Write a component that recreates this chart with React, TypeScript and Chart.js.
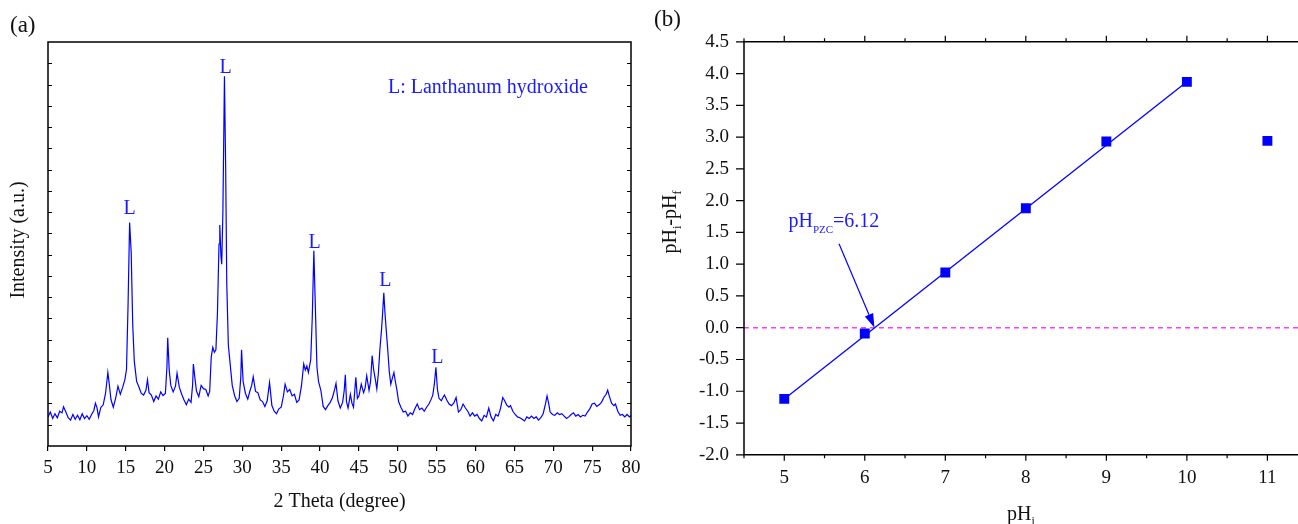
import React, { useEffect, useRef } from "react";
import { Chart, registerables } from "chart.js";
Chart.register(...registerables);

const FONT = '"Liberation Serif", "Times New Roman", serif';
const BLUE = "#0000ff";
const TEXT_BLUE = "#1a1aff";

// ---------- Panel (a): XRD pattern ----------
const xrdTheta = [
  5.0, 5.3, 5.6, 5.9, 6.2, 6.5, 6.8, 7.0, 7.3, 7.6, 7.9, 8.2, 8.5, 8.8, 9.1, 9.4, 9.7, 10.0, 10.3, 10.6,
  10.9, 11.1, 11.3, 11.5, 11.8, 12.1, 12.4, 12.7, 12.9, 13.1, 13.4, 13.7, 14.0, 14.3, 14.6, 14.9, 15.1, 15.3, 15.5, 15.7,
  15.9, 16.1, 16.4, 16.7, 17.0, 17.3, 17.6, 17.8, 18.0, 18.3, 18.6, 18.9, 19.2, 19.5, 19.8, 20.1, 20.3, 20.4, 20.6, 20.8,
  21.1, 21.4, 21.6, 21.9, 22.2, 22.5, 22.8, 23.1, 23.4, 23.6, 23.7, 23.9, 24.1, 24.4, 24.7, 25.0, 25.3, 25.6, 25.8, 26.0,
  26.2, 26.4, 26.6, 26.8, 27.0, 27.1, 27.25, 27.35, 27.5, 27.7, 27.85, 28.0, 28.2, 28.4, 28.7, 29.0, 29.3, 29.6, 29.8, 29.9,
  30.1, 30.4, 30.7, 31.0, 31.2, 31.4, 31.7, 32.0, 32.3, 32.6, 32.9, 33.2, 33.5, 33.8, 34.1, 34.4, 34.7, 35.0, 35.3, 35.5,
  35.8, 36.1, 36.4, 36.7, 37.0, 37.3, 37.6, 37.9, 38.1, 38.3, 38.5, 38.8, 39.0, 39.2, 39.4, 39.6, 39.8, 40.1, 40.4, 40.7,
  41.0, 41.3, 41.6, 41.9, 42.05, 42.3, 42.6, 42.9, 43.1, 43.25, 43.4, 43.6, 43.9, 44.1, 44.3, 44.6, 44.8, 45.0, 45.3, 45.6,
  45.8, 46.0, 46.3, 46.5, 46.7, 46.9, 47.1, 47.3, 47.5, 47.7, 47.9, 48.05, 48.2, 48.35, 48.5, 48.7, 48.9, 49.1, 49.3, 49.5,
  49.7, 49.9, 50.1, 50.4, 50.7, 51.0, 51.3, 51.6, 51.9, 52.2, 52.5, 52.8, 53.1, 53.4, 53.7, 54.0, 54.3, 54.5, 54.7, 54.9,
  55.1, 55.3, 55.6, 55.8, 56.0, 56.3, 56.6, 56.9, 57.2, 57.5, 57.8, 58.1, 58.4, 58.7, 59.0, 59.3, 59.6, 59.9, 60.2, 60.5,
  60.8, 61.1, 61.4, 61.7, 62.0, 62.3, 62.6, 62.9, 63.2, 63.5, 63.7, 64.0, 64.3, 64.5, 64.8, 65.1, 65.4, 65.7, 66.0, 66.3,
  66.6, 66.9, 67.2, 67.5, 67.8, 68.1, 68.4, 68.7, 69.0, 69.2, 69.4, 69.6, 69.9, 70.2, 70.5, 70.8, 71.1, 71.4, 71.7, 72.0,
  72.3, 72.6, 72.9, 73.2, 73.5, 73.8, 74.1, 74.4, 74.7, 75.0, 75.3, 75.6, 75.9, 76.2, 76.5, 76.8, 77.0, 77.2, 77.5, 77.8,
  78.0, 78.3, 78.6, 78.9, 79.2, 79.5, 79.8, 80.0,
];
const xrdIntensity = [
  7.2, 8.4, 6.8, 8.0, 7.0, 8.6, 8.2, 9.7, 8.4, 7.0, 6.4, 7.8, 6.6, 7.6, 6.5, 8.0, 6.8, 7.5, 6.6, 7.8,
  8.8, 10.6, 9.5, 7.2, 9.6, 10.2, 13.0, 18.2, 15.0, 11.5, 9.6, 11.8, 14.8, 12.8, 14.5, 16.5, 19.0, 35.0, 55.3, 48.0,
  30.0, 21.0, 16.0, 14.6, 13.0, 12.6, 13.8, 16.4, 13.2, 12.6, 11.0, 12.4, 11.6, 13.4, 12.5, 13.0, 19.5, 26.8, 18.6, 15.0,
  13.4, 14.8, 18.0, 14.5, 12.8, 11.4, 10.2, 11.6, 10.8, 15.0, 20.3, 16.8, 13.6, 12.2, 15.0, 14.2, 14.0, 12.4, 13.5, 22.0,
  24.4, 23.2, 23.8, 33.0, 50.0, 54.7, 47.0, 45.0, 58.0, 91.5, 70.0, 40.0, 25.0, 21.0, 15.0, 12.5, 11.0, 11.8, 17.0, 23.8,
  16.0, 13.0, 11.6, 13.8, 15.0, 17.1, 13.5, 13.2, 11.4, 11.0, 9.8, 11.2, 15.7, 10.0, 8.6, 8.0, 9.2, 9.6, 12.5, 15.3,
  13.4, 14.0, 12.4, 12.8, 10.8, 11.4, 14.8, 20.3, 18.8, 19.8, 18.2, 21.4, 32.0, 48.3, 34.0, 19.5, 16.0, 13.8, 9.8, 9.0,
  10.0, 10.8, 12.0, 14.2, 15.5, 11.2, 9.4, 10.8, 13.6, 17.6, 11.0, 9.4, 12.8, 10.6, 9.6, 17.0, 11.8, 12.4, 15.3, 13.2,
  14.4, 17.4, 13.8, 16.0, 22.4, 18.8, 16.6, 14.1, 18.0, 24.0, 28.6, 33.0, 37.9, 33.0, 29.0, 24.0, 18.5, 15.3, 16.8, 18.2,
  15.8, 13.7, 11.0, 9.6, 8.4, 8.6, 7.4, 8.2, 7.8, 9.2, 10.4, 9.0, 9.4, 8.6, 9.6, 10.4, 11.6, 12.6, 15.3, 19.5,
  14.0, 11.8, 11.2, 12.0, 12.6, 11.4, 10.4, 10.0, 10.6, 12.0, 8.4, 9.0, 10.4, 9.4, 8.6, 7.4, 8.2, 7.4, 7.8, 6.8,
  6.2, 7.6, 7.2, 9.4, 7.2, 6.2, 7.8, 7.4, 9.2, 12.0, 11.4, 10.2, 9.6, 10.0, 8.6, 7.8, 7.2, 7.0, 6.6, 6.2,
  7.2, 6.8, 7.4, 6.8, 7.2, 6.4, 7.0, 8.0, 10.4, 12.4, 10.6, 8.4, 7.8, 7.6, 8.2, 7.8, 8.0, 7.4, 6.8, 7.2,
  7.8, 8.2, 7.4, 7.8, 7.2, 7.6, 7.4, 8.4, 9.2, 10.4, 10.6, 9.8, 10.2, 10.8, 12.0, 12.8, 13.8, 12.4, 10.6, 10.0,
  10.4, 8.6, 7.6, 7.8, 7.2, 7.8, 7.2, 7.6,
];
const xTicksA = [5, 10, 15, 20, 25, 30, 35, 40, 45, 50, 55, 60, 65, 70, 75, 80];
const peakLabelTheta = [15.5, 27.85, 39.3, 48.4, 55.1];
const peakLabelY = [57.4, 92.3, 49.1, 39.6, 20.5];
const peakLabelText = ["L", "L", "L", "L", "L"];
const legendText = "L: Lanthanum hydroxide";
const legendTheta = 48.74;
const legendY = 87.4;
const innerTickCount = 19;

// ---------- Panel (b): point of zero charge ----------
const phInitial = [5, 6, 7, 8, 9, 10, 11];
const phDiff = [-1.12, -0.09, 0.87, 1.88, 2.93, 3.87, 2.94];
const fitX = [5, 10];
const fitY = [-1.12, 3.87];
const zeroX = [4.5, 11.38];
const zeroY = [0, 0];
const yTicksB = [-2.0, -1.5, -1.0, -0.5, 0.0, 0.5, 1.0, 1.5, 2.0, 2.5, 3.0, 3.5, 4.0, 4.5];
const xTicksB = [5, 6, 7, 8, 9, 10, 11];
const xMinorB = [4.5, 5.5, 6.5, 7.5, 8.5, 9.5, 10.5];
const pzcValue = 6.12;
const arrowFrom = [5.68, 1.32];
const annotPos = [5.052, 1.59];

function font(size: number) {
  return `${size}px ${FONT}`;
}

const leftDecor = {
  id: "leftDecor",
  afterDraw(chart: any) {
    const { ctx, chartArea: a } = chart;
    const xs = chart.scales.x;
    const ys = chart.scales.y;
    ctx.save();
    ctx.strokeStyle = "#000";
    ctx.lineWidth = 1.5;
    ctx.strokeRect(a.left, a.top, a.right - a.left, a.bottom - a.top);
    ctx.lineWidth = 1;
    for (let i = 1; i < innerTickCount; i++) {
      const y = Math.round(ys.getPixelForValue((i * ys.max) / innerTickCount)) + 0.5;
      ctx.beginPath();
      ctx.moveTo(a.left, y);
      ctx.lineTo(a.left + 4, y);
      ctx.moveTo(a.right, y);
      ctx.lineTo(a.right - 4, y);
      ctx.stroke();
    }
    ctx.fillStyle = TEXT_BLUE;
    ctx.font = font(20);
    ctx.textAlign = "center";
    ctx.textBaseline = "alphabetic";
    peakLabelTheta.forEach((t, i) => {
      ctx.fillText(peakLabelText[i], xs.getPixelForValue(t), ys.getPixelForValue(peakLabelY[i]));
    });
    ctx.textAlign = "left";
    ctx.fillText(legendText, xs.getPixelForValue(legendTheta), ys.getPixelForValue(legendY));
    ctx.fillStyle = "#111";
    ctx.textAlign = "center";
    ctx.font = font(20);
    ctx.fillText("2 Theta (degree)", (a.left + a.right) / 2, 507);
    ctx.save();
    ctx.translate(24, 240);
    ctx.rotate(-Math.PI / 2);
    ctx.fillText("Intensity (a.u.)", 0, 0);
    ctx.restore();
    ctx.textAlign = "left";
    ctx.font = font(23);
    ctx.fillText("(a)", 10, 32);
    ctx.restore();
  },
};

const OFFSET_B = 649;

function drawSubText(ctx: any, parts: [string, number, number][], x: number, y: number, align: "left" | "center") {
  let total = 0;
  parts.forEach(([t, s]) => {
    ctx.font = font(s);
    total += ctx.measureText(t).width;
  });
  let cx = align === "center" ? x - total / 2 : x;
  ctx.textAlign = "left";
  parts.forEach(([t, s, dy]) => {
    ctx.font = font(s);
    ctx.fillText(t, cx, y + dy);
    cx += ctx.measureText(t).width;
  });
}

const rightDecor = {
  id: "rightDecor",
  afterDraw(chart: any) {
    const { ctx, chartArea: a } = chart;
    const xs = chart.scales.x;
    const ys = chart.scales.y;
    ctx.save();
    ctx.strokeStyle = "#000";
    ctx.lineWidth = 1.5;
    ctx.beginPath();
    ctx.moveTo(chart.width + 2, a.top);
    ctx.lineTo(a.left, a.top);
    ctx.lineTo(a.left, a.bottom);
    ctx.lineTo(chart.width + 2, a.bottom);
    ctx.stroke();
    ctx.lineWidth = 1.2;
    ctx.beginPath();
    yTicksB.forEach((v) => {
      const y = ys.getPixelForValue(v);
      ctx.moveTo(a.left, y);
      ctx.lineTo(a.left - 8, y);
    });
    xTicksB.forEach((v) => {
      const x = xs.getPixelForValue(v);
      ctx.moveTo(x, a.bottom);
      ctx.lineTo(x, a.bottom + 6);
      ctx.moveTo(x, a.top);
      ctx.lineTo(x, a.top - 6);
    });
    xMinorB.forEach((v) => {
      const x = xs.getPixelForValue(v);
      ctx.moveTo(x, a.bottom);
      ctx.lineTo(x, a.bottom + 3.5);
      ctx.moveTo(x, a.top);
      ctx.lineTo(x, a.top - 3.5);
    });
    ctx.stroke();

    const x1 = xs.getPixelForValue(arrowFrom[0]);
    const y1 = ys.getPixelForValue(arrowFrom[1]);
    const x2 = xs.getPixelForValue(pzcValue);
    const y2 = ys.getPixelForValue(0);
    const ang = Math.atan2(y2 - y1, x2 - x1);
    const hl = 14;
    const hw = 4.5;
    const bx = x2 - hl * Math.cos(ang);
    const by = y2 - hl * Math.sin(ang);
    ctx.strokeStyle = BLUE;
    ctx.fillStyle = BLUE;
    ctx.lineWidth = 1.2;
    ctx.beginPath();
    ctx.moveTo(x1, y1);
    ctx.lineTo(bx, by);
    ctx.stroke();
    ctx.beginPath();
    ctx.moveTo(x2, y2);
    ctx.lineTo(bx + hw * Math.sin(ang), by - hw * Math.cos(ang));
    ctx.lineTo(bx - hw * Math.sin(ang), by + hw * Math.cos(ang));
    ctx.closePath();
    ctx.fill();

    ctx.fillStyle = TEXT_BLUE;
    ctx.textBaseline = "alphabetic";
    drawSubText(
      ctx,
      [["pH", 20, 0], ["PZC", 11, 6], ["=" + pzcValue.toFixed(2), 20, 0]],
      xs.getPixelForValue(annotPos[0]),
      ys.getPixelForValue(annotPos[1]),
      "left"
    );

    ctx.fillStyle = "#111";
    drawSubText(ctx, [["pH", 20, 0], ["i", 12, 5]], (a.left + a.right) / 2, 520, "center");
    ctx.save();
    ctx.translate(676 - OFFSET_B, 222);
    ctx.rotate(-Math.PI / 2);
    drawSubText(ctx, [["pH", 20, 0], ["i", 12, 5], ["-pH", 20, 0], ["f", 12, 5]], 0, 0, "center");
    ctx.restore();
    ctx.font = font(23);
    ctx.textAlign = "left";
    ctx.fillText("(b)", 654 - OFFSET_B, 26);
    ctx.restore();
  },
};

export default function App() {
  const leftRef = useRef<HTMLCanvasElement>(null);
  const rightRef = useRef<HTMLCanvasElement>(null);

  useEffect(() => {
    const tickFont = { family: FONT, size: 19 };
    const left = new Chart(leftRef.current as HTMLCanvasElement, {
      type: "scatter",
      data: {
        datasets: [
          {
            data: xrdTheta.map((x, i) => ({ x, y: xrdIntensity[i] })),
            showLine: true,
            borderColor: BLUE,
            borderWidth: 1.2,
            pointRadius: 0,
            tension: 0,
          },
        ],
      },
      options: {
        responsive: false,
        animation: false,
        events: [],
        layout: { autoPadding: false, padding: { left: 0, right: 18, top: 42, bottom: 0 } },
        plugins: { legend: { display: false }, tooltip: { enabled: false } },
        scales: {
          x: {
            type: "linear",
            min: 5,
            max: 80,
            afterBuildTicks: (s: any) => {
              s.ticks = xTicksA.map((v) => ({ value: v }));
            },
            ticks: { font: tickFont, color: "#111", padding: 6, maxRotation: 0, autoSkip: false },
            grid: { display: true, drawOnChartArea: false, drawTicks: true, tickLength: 5, color: "#000", lineWidth: 1.2 },
            border: { display: false },
            afterFit: (s: any) => {
              s.height = 78;
            },
          },
          y: {
            type: "linear",
            min: 0,
            max: 100,
            ticks: { display: false },
            grid: { display: false, drawTicks: false },
            border: { display: false },
            afterFit: (s: any) => {
              s.width = 48;
            },
          },
        },
      } as any,
      plugins: [leftDecor],
    });

    const right = new Chart(rightRef.current as HTMLCanvasElement, {
      type: "scatter",
      data: {
        datasets: [
          {
            data: phInitial.map((x, i) => ({ x, y: phDiff[i] })),
            pointStyle: "rect",
            pointRadius: 7,
            backgroundColor: BLUE,
            borderColor: BLUE,
            borderWidth: 0,
            showLine: false,
          },
          {
            data: fitX.map((x, i) => ({ x, y: fitY[i] })),
            showLine: true,
            borderColor: BLUE,
            borderWidth: 1.3,
            pointRadius: 0,
          },
          {
            data: zeroX.map((x, i) => ({ x, y: zeroY[i] })),
            showLine: true,
            borderColor: "#f444f4",
            borderWidth: 1.5,
            borderDash: [5, 4],
            pointRadius: 0,
          },
        ],
      },
      options: {
        responsive: false,
        animation: false,
        events: [],
        layout: { autoPadding: false, padding: { left: 0, right: 0, top: 41.8, bottom: 0 } },
        plugins: { legend: { display: false }, tooltip: { enabled: false } },
        scales: {
          x: {
            type: "linear",
            min: 4.5,
            max: 11.38,
            afterBuildTicks: (s: any) => {
              s.ticks = xTicksB.map((v) => ({ value: v }));
            },
            ticks: { font: tickFont, color: "#111", padding: 12, maxRotation: 0, autoSkip: false },
            grid: { display: false, drawTicks: false },
            border: { display: false },
            afterFit: (s: any) => {
              s.height = 69.2;
              s.paddingLeft = 0;
              s.paddingRight = 0;
            },
          },
          y: {
            type: "linear",
            min: -2,
            max: 4.5,
            afterBuildTicks: (s: any) => {
              s.ticks = yTicksB.map((v) => ({ value: v }));
            },
            ticks: {
              font: tickFont,
              color: "#111",
              padding: 15,
              autoSkip: false,
              callback: (v: any) => Number(v).toFixed(1),
            },
            grid: { display: false, drawTicks: false },
            border: { display: false },
            afterFit: (s: any) => {
              s.width = 95;
            },
          },
        },
      } as any,
      plugins: [rightDecor],
    });

    return () => {
      left.destroy();
      right.destroy();
    };
  }, []);

  return (
    <div style={{ position: "fixed", left: 0, top: 0, width: 1298, height: 524, background: "#fff", overflow: "hidden" }}>
      <canvas ref={leftRef} width={649} height={524} style={{ position: "absolute", left: 0, top: 0, width: 649, height: 524 }} />
      <canvas ref={rightRef} width={649} height={524} style={{ position: "absolute", left: OFFSET_B, top: 0, width: 649, height: 524 }} />
    </div>
  );
}
